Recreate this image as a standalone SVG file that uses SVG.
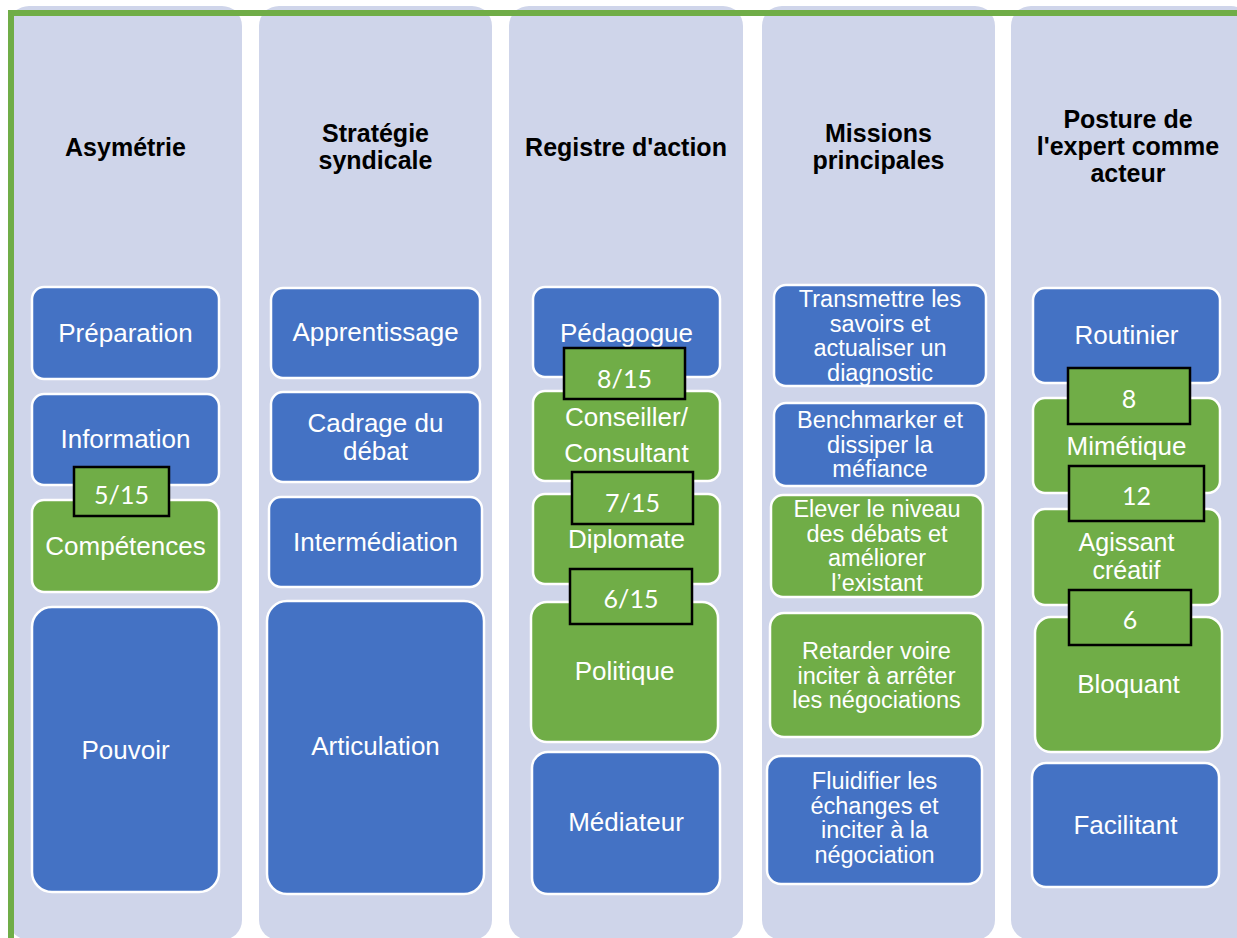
<svg xmlns="http://www.w3.org/2000/svg" width="1237" height="938" viewBox="0 0 1237 938">
<style>
.col{fill:#CFD5EA}
.blue{fill:#4472C4;stroke:#FFFFFF;stroke-width:2.5}
.green{fill:#70AD47;stroke:#FFFFFF;stroke-width:2.5}
.badge{fill:#70AD47;stroke:#000000;stroke-width:2.5}
.hd{font-family:"Liberation Sans",Arial,sans-serif;font-weight:bold;font-size:25px;fill:#000000;text-anchor:middle}
.t{font-family:"Liberation Sans",Arial,sans-serif;font-size:26px;fill:#FFFFFF;text-anchor:middle}
.s{font-family:"Liberation Sans",Arial,sans-serif;font-size:23.5px;fill:#FFFFFF;text-anchor:middle}
.b{font-family:Lato,"Open Sans",sans-serif;font-size:25px;fill:#FFFFFF;text-anchor:middle}
</style>
<rect width="1237" height="938" fill="#FFFFFF"/>
<g id="columns">
<rect class="col" x="9" y="6" width="233" height="934" rx="20"/>
<rect class="col" x="259" y="6" width="233" height="934" rx="20"/>
<rect class="col" x="509" y="6" width="234" height="934" rx="20"/>
<rect class="col" x="762" y="6" width="233" height="934" rx="20"/>
<rect class="col" x="1011" y="6" width="240" height="934" rx="20"/>
</g>
<g id="frame" fill="#70AD47">
<rect x="8" y="10" width="1229" height="6"/>
<rect x="8" y="10" width="6" height="928"/>
</g>
<g id="headers">
<text class="hd" x="125.5" y="156">Asymétrie</text>
<text class="hd" x="375.5" y="142">Stratégie</text>
<text class="hd" x="375.5" y="169">syndicale</text>
<text class="hd" x="626" y="156">Registre d'action</text>
<text class="hd" x="878.5" y="142">Missions</text>
<text class="hd" x="878.5" y="169">principales</text>
<text class="hd" x="1128" y="128">Posture de</text>
<text class="hd" x="1128" y="155">l'expert comme</text>
<text class="hd" x="1128" y="182">acteur</text>
</g>
<g id="connectors"></g>
<g id="n-preparation"><rect class="blue" x="32" y="287" width="187" height="92" rx="12"/><text class="t" x="125.5" y="342">Préparation</text></g>
<g id="n-information"><rect class="blue" x="32" y="394" width="187" height="91" rx="12"/><text class="t" x="125.5" y="448">Information</text></g>
<g id="n-competences"><rect class="green" x="32" y="500" width="187" height="92" rx="12"/><text class="t" x="125.5" y="555">Compétences</text></g>
<g id="n-pouvoir"><rect class="blue" x="32" y="607" width="187" height="285" rx="20"/><text class="t" x="125.5" y="759">Pouvoir</text></g>
<g id="b-5-15"><rect class="badge" x="74" y="467" width="95" height="49"/><text class="b" x="121.5" y="504">5/15</text></g>

<g id="n-apprentissage"><rect class="blue" x="271" y="288" width="209" height="90" rx="12"/><text class="t" x="375.5" y="341">Apprentissage</text></g>
<g id="n-cadrage"><rect class="blue" x="271" y="392" width="209" height="90" rx="12"/><text class="t" x="375.5" y="432">Cadrage du</text><text class="t" x="375.5" y="460">débat</text></g>
<g id="n-intermediation"><rect class="blue" x="269" y="497" width="213" height="90" rx="12"/><text class="t" x="375.5" y="551">Intermédiation</text></g>
<g id="n-articulation"><rect class="blue" x="267" y="601" width="217" height="293" rx="20"/><text class="t" x="375.5" y="755">Articulation</text></g>

<g id="n-pedagogue"><rect class="blue" x="533" y="287" width="187" height="90" rx="12"/><text class="t" x="626.5" y="342">Pédagogue</text></g>
<g id="n-conseiller"><rect class="green" x="533" y="391" width="187" height="90" rx="12"/><text class="t" x="626.5" y="426">Conseiller/</text><text class="t" x="626.5" y="462">Consultant</text></g>
<g id="n-diplomate"><rect class="green" x="533" y="494" width="187" height="90" rx="12"/><text class="t" x="626.5" y="548">Diplomate</text></g>
<g id="n-politique"><rect class="green" x="531" y="602" width="187" height="140" rx="16"/><text class="t" x="624.5" y="680">Politique</text></g>
<g id="n-mediateur"><rect class="blue" x="532" y="752" width="188" height="142" rx="16"/><text class="t" x="626" y="831">Médiateur</text></g>
<g id="b-8-15"><rect class="badge" x="564" y="348" width="121" height="51"/><text class="b" x="624.5" y="388">8/15</text></g>
<g id="b-7-15"><rect class="badge" x="572" y="472" width="121" height="52"/><text class="b" x="632.5" y="512">7/15</text></g>
<g id="b-6-15"><rect class="badge" x="570" y="569" width="122" height="55"/><text class="b" x="631" y="608">6/15</text></g>

<g id="n-transmettre"><rect class="blue" x="774" y="285" width="212" height="101" rx="12"/><text class="s" x="880" y="307">Transmettre les</text><text class="s" x="880" y="331.5">savoirs et</text><text class="s" x="880" y="356">actualiser un</text><text class="s" x="880" y="380.5">diagnostic</text></g>
<g id="n-benchmarker"><rect class="blue" x="774" y="403" width="212" height="83" rx="12"/><text class="s" x="880" y="428">Benchmarker et</text><text class="s" x="880" y="452.5">dissiper la</text><text class="s" x="880" y="477">méfiance</text></g>
<g id="n-elever"><rect class="green" x="771" y="495" width="212" height="102" rx="12"/><text class="s" x="877" y="517">Elever le niveau</text><text class="s" x="877" y="541.5">des débats et</text><text class="s" x="877" y="566">améliorer</text><text class="s" x="877" y="590.5">l’existant</text></g>
<g id="n-retarder"><rect class="green" x="770" y="613" width="213" height="124" rx="14"/><text class="s" x="876.5" y="659">Retarder voire</text><text class="s" x="876.5" y="683.5">inciter à arrêter</text><text class="s" x="876.5" y="708">les négociations</text></g>
<g id="n-fluidifier"><rect class="blue" x="767" y="756" width="215" height="128" rx="14"/><text class="s" x="874.5" y="789">Fluidifier les</text><text class="s" x="874.5" y="813.5">échanges et</text><text class="s" x="874.5" y="838">inciter à la</text><text class="s" x="874.5" y="862.5">négociation</text></g>

<g id="n-routinier"><rect class="blue" x="1033" y="288" width="187" height="95" rx="12"/><text class="t" x="1126.5" y="344">Routinier</text></g>
<g id="n-mimetique"><rect class="green" x="1033" y="398" width="187" height="95" rx="12"/><text class="t" x="1126.5" y="455">Mimétique</text></g>
<g id="n-agissant"><rect class="green" x="1033" y="509" width="187" height="96" rx="12"/><text class="t" x="1126.5" y="551" style="font-size:25px">Agissant</text><text class="t" x="1126.5" y="579" style="font-size:25px">créatif</text></g>
<g id="n-bloquant"><rect class="green" x="1035" y="617" width="187" height="135" rx="16"/><text class="t" x="1128.5" y="693">Bloquant</text></g>
<g id="n-facilitant"><rect class="blue" x="1032" y="763" width="187" height="124" rx="14"/><text class="t" x="1125.5" y="834">Facilitant</text></g>
<g id="b-8"><rect class="badge" x="1068" y="368" width="122" height="56"/><text class="b" x="1129" y="408">8</text></g>
<g id="b-12"><rect class="badge" x="1069" y="466" width="135" height="55"/><text class="b" x="1136.5" y="505">12</text></g>
<g id="b-6"><rect class="badge" x="1069" y="590" width="122" height="55"/><text class="b" x="1130" y="629">6</text></g>
</svg>
